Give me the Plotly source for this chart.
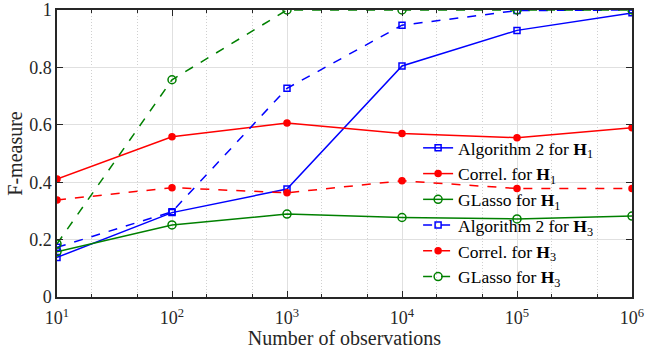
import plotly.graph_objects as go

obs = [1e1, 1e2, 1e3, 1e4, 1e5, 1e6]
alg2_h1 = [0.138, 0.294, 0.376, 0.805, 0.929, 0.990]
correl_h1 = [0.411, 0.558, 0.606, 0.570, 0.555, 0.590]
glasso_h1 = [0.158, 0.251, 0.289, 0.277, 0.272, 0.282]
alg2_h3 = [0.173, 0.297, 0.727, 0.947, 0.998, 1.000]
correl_h3 = [0.338, 0.381, 0.363, 0.405, 0.378, 0.378]
glasso_h3 = [0.185, 0.757, 1.000, 1.000, 1.000, 1.000]

names = ["Algorithm 2 for <b>H</b><sub>1</sub>", "Correl. for <b>H</b><sub>1</sub>",
         "GLasso for <b>H</b><sub>1</sub>", "Algorithm 2 for <b>H</b><sub>3</sub>",
         "Correl. for <b>H</b><sub>3</sub>", "GLasso for <b>H</b><sub>3</sub>"]
series = [alg2_h1, correl_h1, glasso_h1, alg2_h3, correl_h3, glasso_h3]
colors = ["#0000FF", "#FF0000", "#008000"] * 2
symbols = ["square-open", "circle", "circle-open"] * 2
msizes = [6, 6, 8] * 2
dashes = ["solid"] * 3 + ["dash"] * 3

xticks = [1e1, 1e2, 1e3, 1e4, 1e5, 1e6]
xticktext = ["10<sup>1</sup>", "10<sup>2</sup>", "10<sup>3</sup>", "10<sup>4</sup>", "10<sup>5</sup>", "10<sup>6</sup>"]
yticks = [0, 0.2, 0.4, 0.6, 0.8, 1]
yticktext = ["0", "0.2", "0.4", "0.6", "0.8", "1"]

fig = go.Figure()
for s, n, c, sym, ms, d in zip(series, names, colors, symbols, msizes, dashes):
    fig.add_trace(go.Scatter(
        x=obs, y=s, name=n, mode="lines+markers",
        line=dict(color=c, width=1.5, dash=d),
        marker=dict(symbol=sym, size=ms, color=c, line=dict(color=c, width=1.5)),
    ))

font = "Liberation Serif"
axcol = "#262626"
fig.update_layout(
    width=655, height=349,
    margin=dict(l=57, r=23, t=10, b=52, autoexpand=False),
    paper_bgcolor="white", plot_bgcolor="white",
    font=dict(family=font, size=18, color=axcol),
    showlegend=True,
    legend=dict(x=0.628, y=0.582, xanchor="left", yanchor="top",
                bgcolor="rgba(0,0,0,0)", borderwidth=0,
                font=dict(family=font, size=17.5, color="#000000"),
                tracegroupgap=0, itemwidth=30),
    xaxis=dict(
        type="log", range=[1, 6], automargin=False,
        tickvals=xticks, ticktext=xticktext,
        ticks="inside", ticklen=6, tickcolor=axcol, ticklabelstandoff=4,
        showline=True, linecolor=axcol, linewidth=1.5, mirror="ticks",
        showgrid=True, gridcolor="#E0E0E0", gridwidth=1,
        zeroline=False,
        minor=dict(ticks="inside", ticklen=3, tickcolor=axcol, showgrid=True,
                   gridcolor="#D0D0D0", griddash="1px,2px", gridwidth=1),
        title=dict(text="Number of observations", font=dict(size=20), standoff=5),
        tickfont=dict(size=18),
    ),
    yaxis=dict(
        range=[0, 1], automargin=False,
        tickvals=yticks, ticktext=yticktext,
        ticks="inside", ticklen=6, tickcolor=axcol,
        showline=True, linecolor=axcol, linewidth=1.5, mirror="ticks",
        showgrid=True, gridcolor="#E0E0E0", gridwidth=1,
        zeroline=False,
        title=dict(text="F-measure", font=dict(size=20), standoff=1),
        tickfont=dict(size=18),
    ),
)

fig.write_html("out.html")
